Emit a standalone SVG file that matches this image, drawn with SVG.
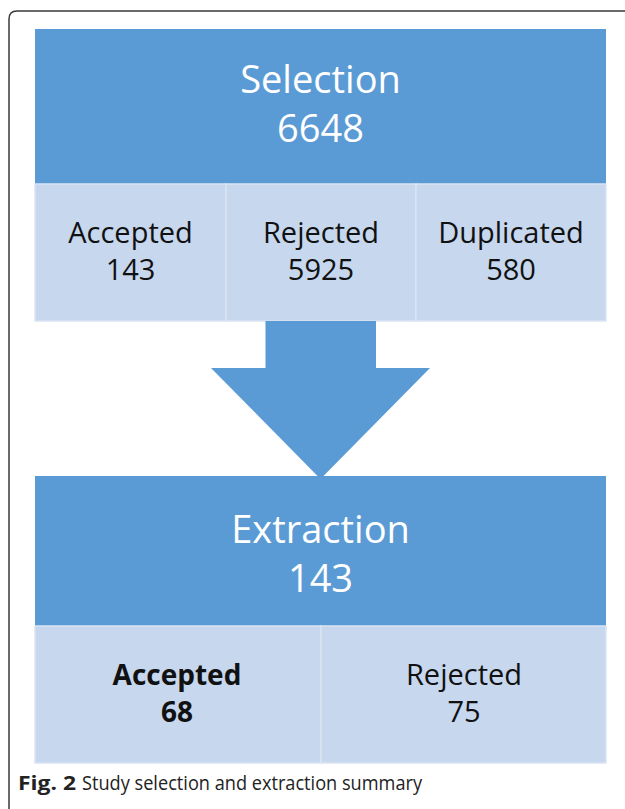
<svg xmlns="http://www.w3.org/2000/svg" width="625" height="809" viewBox="0 0 625 809">
<style>
.hdr{fill:#5B9BD5}
.cell{fill:#C6D7EE;stroke:#DAE5F3;stroke-width:1.5}
.ht{font-family:"Open Sans","Noto Sans",sans-serif;font-size:38px;fill:#FFFFFF;text-anchor:middle}
.ct{font-family:"Open Sans","Noto Sans",sans-serif;font-size:29px;fill:#111111;text-anchor:middle}
.bt{font-family:"Open Sans","Noto Sans",sans-serif;font-size:28px;font-weight:bold;fill:#111111;text-anchor:middle}
.cap{font-family:"Open Sans","Noto Sans",sans-serif;font-size:20px;fill:#222222}
</style>
<rect width="625" height="809" fill="#FFFFFF"/>
<path d="M9 809 V19 Q9 11 17 11 H625" fill="none" stroke="#3A3A3A" stroke-width="1.5"/>

<g id="selection">
<rect class="hdr" x="35" y="29" width="571" height="155"/>
<text class="ht" x="320.5" y="93">Selection</text>
<text class="ht" x="320.5" y="142">6648</text>
</g>
<g id="sel-accepted">
<rect class="cell" x="35" y="184" width="191" height="137"/>
<text class="ct" x="130.5" y="243">Accepted</text>
<text class="ct" x="130.5" y="280">143</text>
</g>
<g id="sel-rejected">
<rect class="cell" x="226" y="184" width="190" height="137"/>
<text class="ct" x="321" y="243">Rejected</text>
<text class="ct" x="321" y="280">5925</text>
</g>
<g id="sel-duplicated">
<rect class="cell" x="416" y="184" width="190" height="137"/>
<text class="ct" x="511" y="243">Duplicated</text>
<text class="ct" x="511" y="280">580</text>
</g>

<g id="connectors">
<path d="M265.5 321 H376 V368 H430 L320.5 479 L211 368 H265.5 Z" fill="#5B9BD5"/>
</g>

<g id="extraction">
<rect class="hdr" x="35" y="476" width="571" height="150"/>
<text class="ht" x="320.5" y="543">Extraction</text>
<text class="ht" x="320.5" y="592">143</text>
</g>
<g id="ext-accepted">
<rect class="cell" x="35" y="626" width="286" height="137"/>
<text class="bt" x="177" y="685">Accepted</text>
<text class="bt" x="177" y="722">68</text>
</g>
<g id="ext-rejected">
<rect class="cell" x="321" y="626" width="285" height="137"/>
<text class="ct" x="464" y="685">Rejected</text>
<text class="ct" x="464" y="722">75</text>
</g>

<g id="caption">
<text class="cap" x="18" y="790" font-weight="bold" textLength="58" lengthAdjust="spacingAndGlyphs">Fig. 2</text>
<text class="cap" x="82" y="790" textLength="340" lengthAdjust="spacingAndGlyphs">Study selection and extraction summary</text>
</g>
</svg>
